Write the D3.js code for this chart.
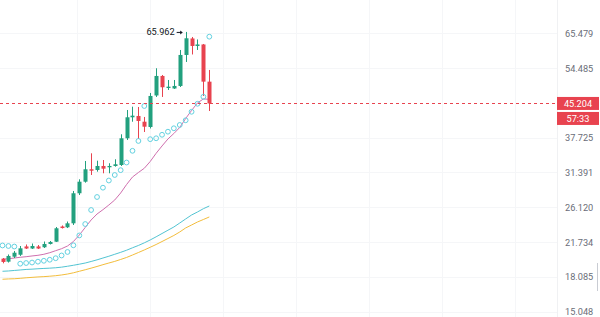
<!DOCTYPE html>
<html>
<head>
<meta charset="utf-8">
<script src="https://cdn.jsdelivr.net/npm/d3@7/dist/d3.min.js"></script>
<style>
  html, body { margin: 0; padding: 0; background: #ffffff; }
  svg { display: block; font-family: Roboto, "Noto Sans", sans-serif; }
</style>
</head>
<body>
<svg id="chart" width="600" height="317"></svg>
<script>
// ---- data ----
const candleIndex = d3.range(36);
const opens  = [19.91,19.60,20.12,20.33,21.24,21.01,21.24,21.15,21.52,21.78,23.60,23.50,24.00,28.13,29.90,31.93,31.81,32.49,32.27,32.49,32.66,37.61,42.02,42.31,41.05,39.92,47.15,52.27,49.05,48.92,49.58,58.40,63.72,61.24,61.73,50.72];
const highs  = [19.98,20.36,20.74,21.29,21.46,21.57,21.40,21.80,21.86,23.54,23.73,24.23,28.47,30.28,33.36,34.74,33.41,33.53,32.96,33.66,38.41,43.67,44.44,44.37,42.09,47.78,54.44,52.54,51.17,51.17,59.96,65.962,64.22,63.38,61.89,53.95];
const lows   = [19.43,19.51,19.98,20.20,20.96,20.96,20.96,21.07,21.46,21.75,23.35,23.41,23.79,27.87,29.75,30.98,31.53,31.26,31.26,32.37,32.49,37.27,41.05,37.47,38.88,39.61,46.78,46.78,48.54,48.80,49.31,56.28,58.55,59.96,47.03,43.44];
const closes = [19.57,20.20,20.55,21.03,21.01,21.29,21.01,21.52,21.75,23.38,23.41,24.00,28.13,29.90,31.93,31.69,32.49,32.03,32.49,32.78,37.61,42.02,42.38,41.21,39.98,47.03,52.27,49.24,49.39,49.58,58.40,63.78,61.24,61.73,50.72,45.204];
const psar   = [21.35,21.29,21.23,19.39,19.46,19.51,19.60,19.69,19.80,19.96,20.25,20.63,21.37,22.51,23.91,25.75,27.58,28.97,30.09,30.98,31.78,33.09,35.20,37.08,44.60,37.43,37.61,38.31,38.94,39.65,40.35,41.36,43.26,45.13,46.83,64.32];
const maFast = [19.85,19.91,19.98,20.06,20.12,20.20,20.27,20.38,20.55,20.77,20.99,21.29,21.80,22.56,23.48,24.43,25.21,25.79,26.44,27.15,28.17,29.46,30.65,31.39,32.10,33.27,34.74,36.11,37.47,38.57,39.82,41.75,43.56,45.32,46.29,46.21];
const maMid  = [18.63,18.66,18.71,18.76,18.81,18.84,18.88,18.91,18.94,18.98,19.04,19.13,19.23,19.34,19.46,19.62,19.79,19.98,20.17,20.38,20.59,20.82,21.09,21.35,21.65,21.98,22.35,22.74,23.14,23.54,24.04,24.56,25.08,25.48,25.93,26.30];
const maSlow = [17.86,17.89,17.91,17.95,18.00,18.04,18.08,18.11,18.15,18.20,18.27,18.36,18.48,18.63,18.78,18.94,19.11,19.29,19.46,19.63,19.83,20.04,20.30,20.57,20.85,21.15,21.46,21.80,22.15,22.51,22.93,23.42,23.79,24.17,24.49,24.82];
const axisTicks  = [15.048, 18.085, 21.734, 26.120, 31.391, 37.725, 54.485, 65.479];
const axisLabels = ["15.048","18.085","21.734","26.120","31.391","37.725","54.485","65.479"];
const lastPrice = 45.204;
const lastPriceLabel = "45.204";
const countdownLabel = "57:33";
const highMarkIndex = 31;
const highMarkLabel = "65.962";

// ---- layout ----
const W = 600, H = 317, paneRight = 557;
const svg = d3.select("#chart");
svg.append("rect").attr("width", W).attr("height", H).attr("fill", "#ffffff");

const x = d3.scaleLinear().domain([0, 35]).range([2.5, 209.3]);
const y = d3.scaleLog().domain([15.048, 65.479]).range([311.7, 33.3]);

const up = "#22a07e", down = "#e8434f";

// grid
const grid = svg.append("g");
grid.selectAll("line.h").data(axisTicks).join("line")
  .attr("x1", 0).attr("x2", paneRight)
  .attr("y1", d => Math.round(y(d)) + 0.5).attr("y2", d => Math.round(y(d)) + 0.5)
  .attr("stroke", "#f5f6f8").attr("stroke-width", 1);
grid.selectAll("line.v").data([77, 150, 223, 296, 369, 442, 515]).join("line")
  .attr("x1", d => d + 0.5).attr("x2", d => d + 0.5).attr("y1", 0).attr("y2", H)
  .attr("stroke", "#f5f6f8").attr("stroke-width", 1);

// moving-average lines
const lineGen = arr => d3.line().x((d, i) => x(i)).y(d => y(d)).curve(d3.curveLinear)(arr);
svg.append("path").attr("d", lineGen(maSlow)).attr("fill", "none").attr("stroke", "#f3bd3c").attr("stroke-width", 1);
svg.append("path").attr("d", lineGen(maMid)).attr("fill", "none").attr("stroke", "#52c4d2").attr("stroke-width", 1);
svg.append("path").attr("d", lineGen(maFast)).attr("fill", "none").attr("stroke", "#cf6fae").attr("stroke-width", 1);

// candles
const candles = svg.append("g");
candleIndex.forEach(i => {
  const col = closes[i] >= opens[i] ? up : down;
  const cx = Math.round(x(i)) + 0.5;
  candles.append("line").attr("x1", cx).attr("x2", cx)
    .attr("y1", y(highs[i])).attr("y2", y(lows[i]))
    .attr("stroke", col).attr("stroke-width", 1);
  const top = y(Math.max(opens[i], closes[i]));
  const bot = y(Math.min(opens[i], closes[i]));
  candles.append("rect").attr("x", cx - 2).attr("width", 4)
    .attr("y", top).attr("height", Math.max(1, bot - top))
    .attr("fill", col);
});

// parabolic SAR dots
svg.append("g").selectAll("circle").data(psar).join("circle")
  .attr("cx", (d, i) => x(i)).attr("cy", d => y(d)).attr("r", 2.4)
  .attr("fill", "none").attr("stroke", "#63d1e0").attr("stroke-width", 1);

// last price dashed line (drawn as crisp dash segments)
const py = Math.round(y(lastPrice));
svg.append("g").selectAll("rect").data(d3.range(0, paneRight - 2, 6)).join("rect")
  .attr("x", d => d).attr("y", py).attr("width", 3).attr("height", 1)
  .attr("fill", down).attr("shape-rendering", "crispEdges");

// high marker
const hx = x(highMarkIndex), hy = y(highs[highMarkIndex]);
svg.append("text").attr("x", hx - 11).attr("y", hy).attr("dy", "0.35em")
  .attr("text-anchor", "end").attr("font-size", 9.2).attr("fill", "#131722").text(highMarkLabel);
svg.append("line").attr("x1", hx - 9).attr("x2", hx - 3.5).attr("y1", hy + 0.5).attr("y2", hy + 0.5)
  .attr("stroke", "#131722").attr("stroke-width", 1);
svg.append("path").attr("d", `M${hx - 3},${hy + 0.5} L${hx - 5.5},${hy - 1.5} L${hx - 5.5},${hy + 2.5} Z`).attr("fill", "#131722");

// price axis
svg.append("line").attr("x1", paneRight + 0.5).attr("x2", paneRight + 0.5).attr("y1", 0).attr("y2", H)
  .attr("stroke", "#f0f1f3");
const axis = d3.axisRight(y).tickValues(axisTicks)
  .tickFormat((d, i) => axisLabels[i]).tickSize(0).tickPadding(0);
const ag = svg.append("g").attr("transform", `translate(565,0)`).call(axis);
ag.select(".domain").remove();
ag.selectAll("text").attr("font-size", 9.2).attr("fill", "#6a6d78")
  .attr("font-family", "Roboto, sans-serif").attr("text-anchor", "start");

// last price label + countdown
const boxTop = y(lastPrice) - 6.5;
svg.append("rect").attr("x", paneRight).attr("y", boxTop).attr("width", 42).attr("height", 13).attr("fill", down);
svg.append("text").attr("x", 578).attr("y", boxTop + 6.5).attr("dy", "0.35em").attr("text-anchor", "middle")
  .attr("font-size", 9.2).attr("fill", "#ffffff").text(lastPriceLabel);
svg.append("rect").attr("x", paneRight).attr("y", boxTop + 15).attr("width", 42).attr("height", 13).attr("fill", down);
svg.append("text").attr("x", 578).attr("y", boxTop + 21.5).attr("dy", "0.35em").attr("text-anchor", "middle")
  .attr("font-size", 9.2).attr("fill", "#ffffff").text(countdownLabel);

// small scroll marker on right edge
svg.append("line").attr("x1", 597.5).attr("x2", 597.5).attr("y1", 263).attr("y2", 291)
  .attr("stroke", "#c9ccd3").attr("stroke-width", 1);
</script>
</body>
</html>
